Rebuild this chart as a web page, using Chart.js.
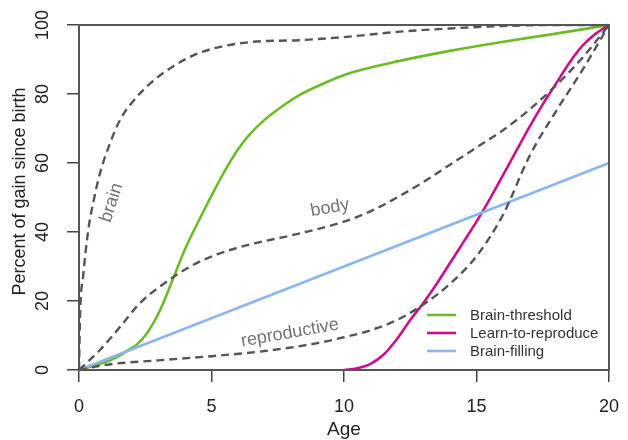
<!DOCTYPE html>
<html>
<head>
<meta charset="utf-8">
<script src="https://cdn.jsdelivr.net/npm/chart.js@4"></script>
<style>
  html, body { margin: 0; padding: 0; background: #fff; }
  #wrap { width: 628px; height: 440px; }
</style>
</head>
<body>
<div id="wrap"><canvas id="growthChart" width="628" height="440"></canvas></div>
<script>
const FONT = "'Liberation Sans', Arial, Helvetica, sans-serif";

// axis ticks
const ageTicks = [0, 5, 10, 15, 20];
const pctTicks = [0, 20, 40, 60, 80, 100];

// dashed reference curves
const brainAge = [0, 0.04, 0.16, 0.35, 0.55, 0.79, 1.17, 1.55, 2.05, 2.68, 3.55, 4.57, 6.4, 8.3, 10, 12, 14, 16, 18, 20];
const brainPct = [0, 16, 27.5, 40.6, 49, 57, 65.7, 72.5, 78, 83, 88, 92, 95, 95.6, 96.5, 98, 99, 99.7, 100, 100];

const bodyAge = [0, 0.79, 1.55, 2.3, 3.2, 4.2, 5.2, 6.5, 8, 10, 11, 12, 13, 14, 15, 16, 17, 18, 19, 20];
const bodyPct = [0, 5.8, 12.5, 19.4, 25, 30, 33.5, 36.5, 39, 43, 46, 50, 54.5, 59.5, 64.5, 69.5, 75.5, 82.5, 90.5, 100];

const reproAge = [0, 1, 3, 5, 7, 9, 10, 11, 12, 13, 14, 15, 16, 17, 18, 19, 20];
const reproPct = [0, 1.5, 2.8, 4, 5.5, 7.8, 9.5, 11.5, 14.5, 19, 25, 33, 45, 62, 75, 87, 100];

// model curves
const thresholdAge = [0, 0.8, 1.4, 1.9, 2.2, 2.5, 2.8, 3.1, 3.5, 4.0, 4.6, 5.1, 5.6, 6.0, 6.45, 7.0, 7.7, 8.3, 9.1, 10.2, 12.1, 14, 15.9, 18, 20];
const thresholdPct = [0, 1.8, 3.6, 6, 7.5, 10, 13.5, 18, 25.5, 35, 44.5, 52, 59, 64, 68.4, 72.5, 76.6, 79.6, 82.6, 86, 89.6, 92.5, 95, 97.5, 100];

const learnAge = [10, 10.5, 11, 11.5, 12, 12.5, 13, 13.5, 14, 14.5, 15, 15.5, 16, 16.5, 17, 17.5, 18, 18.5, 19, 19.5, 20];
const learnPct = [0, 0.5, 1.8, 4.5, 9, 14.5, 19.5, 25, 31, 37, 43, 49.5, 56.5, 63.5, 70.5, 77, 83, 89, 94, 97.5, 100];

const fillingAge = [0, 20];
const fillingPct = [0, 60];

// legend order as in the figure
const legendOrder = ['Brain-threshold', 'Learn-to-reproduce', 'Brain-filling'];

// curve labels: text, age, pct, angle
const curveLabels = [
  ['brain', 1.23, 48.5, -72],
  ['body', 9.47, 47, -10],
  ['reproductive', 7.96, 10.7, -10]
];

function pts(xs, ys) {
  return xs.map((x, i) => ({ x: x, y: ys[i] }));
}

const DASH = '#555555';

function dashed(label, xs, ys) {
  return {
    label: label,
    data: pts(xs, ys),
    borderColor: DASH,
    borderWidth: 2.4,
    borderDash: [8, 5],
    cubicInterpolationMode: 'monotone',
    pointRadius: 0
  };
}

function solid(label, xs, ys, color) {
  return {
    label: label,
    data: pts(xs, ys),
    borderColor: color,
    borderWidth: 2.6,
    cubicInterpolationMode: 'monotone',
    pointRadius: 0
  };
}

const extras = {
  id: 'extras',
  afterDraw(chart) {
    const c = chart.ctx;
    const a = chart.chartArea;
    const xs = chart.scales.x;
    const ys = chart.scales.y;
    c.save();

    // box
    c.strokeStyle = '#555';
    c.lineWidth = 2;
    c.strokeRect(a.left, a.top, a.right - a.left, a.bottom - a.top);

    c.fillStyle = '#222';
    c.font = '18px ' + FONT;
    c.textAlign = 'center';
    c.textBaseline = 'middle';

    // x tick labels and title
    ageTicks.forEach(v => {
      c.fillText(String(v), xs.getPixelForValue(v), a.bottom + 37);
    });
    c.font = '19px ' + FONT;
    c.fillText('Age', (a.left + a.right) / 2, a.bottom + 60);

    // y tick labels (rotated, R style)
    c.font = '18px ' + FONT;
    pctTicks.forEach(v => {
      c.save();
      c.translate(43, ys.getPixelForValue(v));
      c.rotate(-Math.PI / 2);
      c.fillText(String(v), 0, 0);
      c.restore();
    });

    // y title
    c.save();
    c.translate(20, (a.top + a.bottom) / 2 - 6);
    c.rotate(-Math.PI / 2);
    c.fillText('Percent of gain since birth', 0, 0);
    c.restore();

    // curve labels
    c.fillStyle = '#737373';
    curveLabels.forEach(l => {
      c.save();
      c.translate(xs.getPixelForValue(l[1]), ys.getPixelForValue(l[2]));
      c.rotate(l[3] * Math.PI / 180);
      c.fillText(l[0], 0, 0);
      c.restore();
    });

    // legend, bottom right inside the plot
    c.font = '15px ' + FONT;
    c.textAlign = 'left';
    c.fillStyle = '#333';
    legendOrder.forEach((name, i) => {
      const d = chart.data.datasets.find(ds => ds.label === name);
      const y = a.bottom - 55 + i * 18;
      c.strokeStyle = d.borderColor;
      c.lineWidth = 2.6;
      c.beginPath();
      c.moveTo(a.right - 182, y);
      c.lineTo(a.right - 153, y);
      c.stroke();
      c.fillText(d.label, a.right - 139, y + 1);
    });

    c.restore();
  }
};

new Chart(document.getElementById('growthChart'), {
  type: 'line',
  data: {
    datasets: [
      dashed('brain', brainAge, brainPct),
      dashed('body', bodyAge, bodyPct),
      dashed('reproductive', reproAge, reproPct),
      solid('Brain-filling', fillingAge, fillingPct, '#8cb6ef'),
      solid('Learn-to-reproduce', learnAge, learnPct, '#cc108a'),
      solid('Brain-threshold', thresholdAge, thresholdPct, '#6cbc28')
    ]
  },
  options: {
    responsive: false,
    animation: false,
    events: [],
    layout: { padding: { left: 0, right: 19, top: 25, bottom: 0 } },
    plugins: {
      legend: { display: false },
      tooltip: { enabled: false }
    },
    scales: {
      x: {
        type: 'linear',
        min: 0,
        max: 20,
        afterBuildTicks: s => { s.ticks = ageTicks.map(v => ({ value: v })); },
        afterFit: s => { s.height = 70; },
        ticks: { display: false },
        grid: {
          drawOnChartArea: false,
          drawTicks: true,
          tickLength: 12,
          color: '#444',
          lineWidth: 1.5
        },
        border: { display: true, color: '#555', width: 2 }
      },
      y: {
        type: 'linear',
        min: 0,
        max: 100,
        afterBuildTicks: s => { s.ticks = pctTicks.map(v => ({ value: v })); },
        afterFit: s => { s.width = 79; },
        ticks: { display: false },
        grid: {
          drawOnChartArea: false,
          drawTicks: true,
          tickLength: 12,
          color: '#444',
          lineWidth: 1.5
        },
        border: { display: true, color: '#555', width: 2 }
      }
    }
  },
  plugins: [extras]
});
</script>
</body>
</html>
